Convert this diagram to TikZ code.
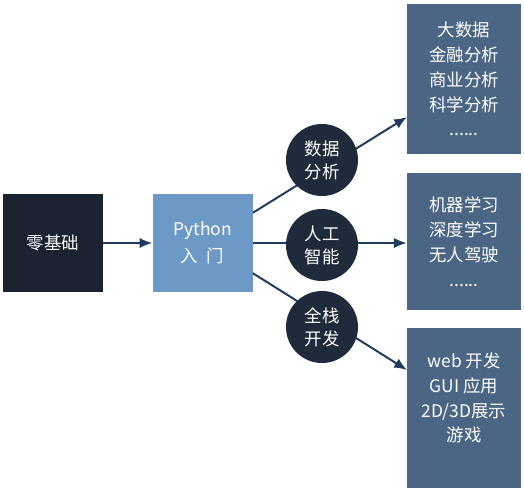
\documentclass[tikz,border=0pt]{standalone}
\usepackage{fontspec}
\setmainfont{Noto Sans CJK SC}
\usetikzlibrary{arrows.meta, positioning}
\definecolor{navydark}{HTML}{1B2230}
\definecolor{circdark}{HTML}{1F2B3B}
\definecolor{pyblue}{HTML}{6C99C5}
\definecolor{slate}{HTML}{4B6584}
\definecolor{arrowblue}{HTML}{1F3C5E}

\begin{document}
\begin{tikzpicture}[
    x=0.025cm, y=-0.025cm,
    box/.style={minimum width=2.5cm, minimum height=2.45cm, text=white, align=center,
        font=\fontsize{12.4}{17.7}\selectfont},
    topic/.style={circle, fill=circdark, minimum size=1.8cm, inner sep=0pt, text=white,
        align=center, font=\fontsize{12.4}{16.5}\selectfont},
    field/.style={fill=slate, minimum width=2.85cm, text=white, align=center,
        font=\fontsize{12.4}{17.7}\selectfont},
    link/.style={draw=arrowblue, line width=1.4pt},
    every edge/.style={link, -{Latex[length=3.2mm, width=2.6mm]}}
]
    \useasboundingbox (0,0) rectangle (524,491);

    % Start and entry
    \node[box, fill=navydark] (zero) at (53,243) {零基础};
    \node[box, fill=pyblue, right=1.225cm of zero, font=\fontsize{12.4}{19}\selectfont] (python)
        {Python\\入\hspace{0.5em}门};
    \draw (zero) edge (python);

    % Target fields
    \node[field, minimum height=3.75cm] (bigdata) at (464,79) {大数据\\金融分析\\商业分析\\科学分析\\......};
    \node[field, minimum height=3.425cm] (ai) at (464,241.5) {机器学习\\深度学习\\无人驾驶\\......};
    \node[field, minimum height=4cm] (dev) at (464,408) {};
    \node[text=white, align=center, font=\fontsize{12.4}{17.7}\selectfont] (devtext) at (464,398)
        {web 开发\\GUI 应用\\2D/3D展示\\游戏};
    \coordinate (tdata) at (407,117);
    \coordinate (tdev) at (407,370);

    % Arrows
    \path (python.31) edge (tdata);
    \path (python.east) edge (ai.west |- python.east);
    \path (python.-31) edge (tdev);

    % Topics
    \node[topic] (data) at (322,160) {数据\\分析};
    \node[topic] (aiint) at (322,245) {人工\\智能};
    \node[topic] (stack) at (322,327) {全栈\\开发};
\end{tikzpicture}
\end{document}
